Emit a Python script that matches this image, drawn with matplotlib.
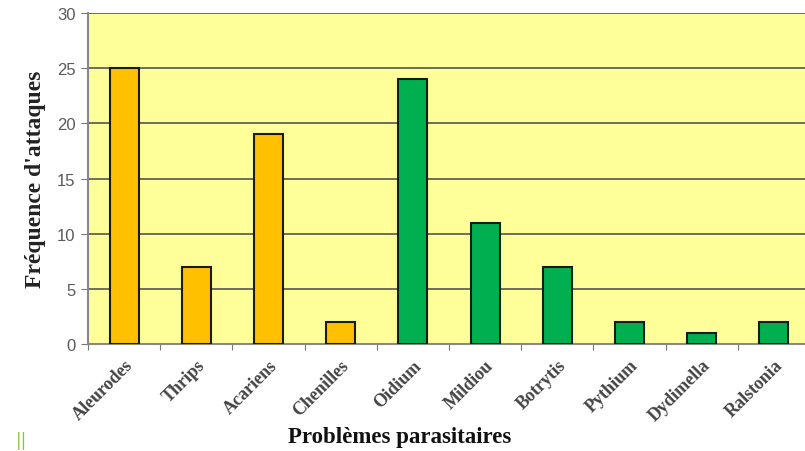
import matplotlib.pyplot as plt
import numpy as np

categories = ['Aleurodes', 'Thrips', 'Acariens', 'Chenilles', 'Oidium',
              'Mildiou', 'Botrytis', 'Pythium', 'Dydimella', 'Ralstonia']
attacks = [25, 7, 19, 2, 24, 11, 7, 2, 1, 2]
groups = ['ravageur'] * 4 + ['maladie'] * 6
group_colors = {'ravageur': '#FFC000', 'maladie': '#00B050'}
y_ticks = [0, 5, 10, 15, 20, 25, 30]

fig = plt.figure(figsize=(8.05, 4.52), dpi=100)
ax = fig.add_axes([88 / 805, 107 / 452, 722 / 805, 331 / 452])
ax.set_facecolor('#FFFF99')

x = np.arange(len(categories))
colors = [group_colors[g] for g in groups]
ax.bar(x, attacks, width=0.4, color=colors, edgecolor='#1a1a1a', linewidth=1.5, zorder=3)

ax.set_xlim(-0.5, len(categories) - 0.5)
ax.set_ylim(0, 30)
ax.set_yticks(y_ticks)
ax.yaxis.grid(True, color='#555555', linewidth=1.2, zorder=1)

# ticks on the category boundaries, labels centred under bars
ax.set_xticks(np.arange(len(categories) + 1) - 0.5)
ax.set_xticklabels([])
ax.set_xticks(x, minor=True)
ax.set_xticklabels(categories, minor=True, rotation=45, ha='right', rotation_mode='anchor',
                   family='Liberation Serif', fontweight='bold', fontsize=13, color='#444444')
ax.tick_params(axis='x', which='minor', length=0, pad=9)
ax.tick_params(axis='x', which='major', length=4, color='#777777', direction='out')
ax.tick_params(axis='y', length=5, color='#777777', labelsize=12, labelcolor='#5a5a5a', pad=4)
for lbl in ax.get_yticklabels():
    lbl.set_family('Liberation Sans')

for side in ['top', 'right']:
    ax.spines[side].set_visible(False)
for side in ['left', 'bottom']:
    ax.spines[side].set_color('#888888')
    ax.spines[side].set_linewidth(1.5)

ax.set_ylabel("Fréquence d'attaques", family='Liberation Serif', fontweight='bold',
              fontsize=17, color='#222222', labelpad=8)
fig.text(400 / 805, 1 - 438 / 452, 'Problèmes parasitaires', family='Liberation Serif',
         fontweight='bold', fontsize=16.5, color='#111111', ha='center', va='center')
fig.text(21 / 805, 1 - 441 / 452, '||', color='#8DC63F', fontsize=12, ha='center', va='center')

fig.savefig('out.png', dpi=100)
